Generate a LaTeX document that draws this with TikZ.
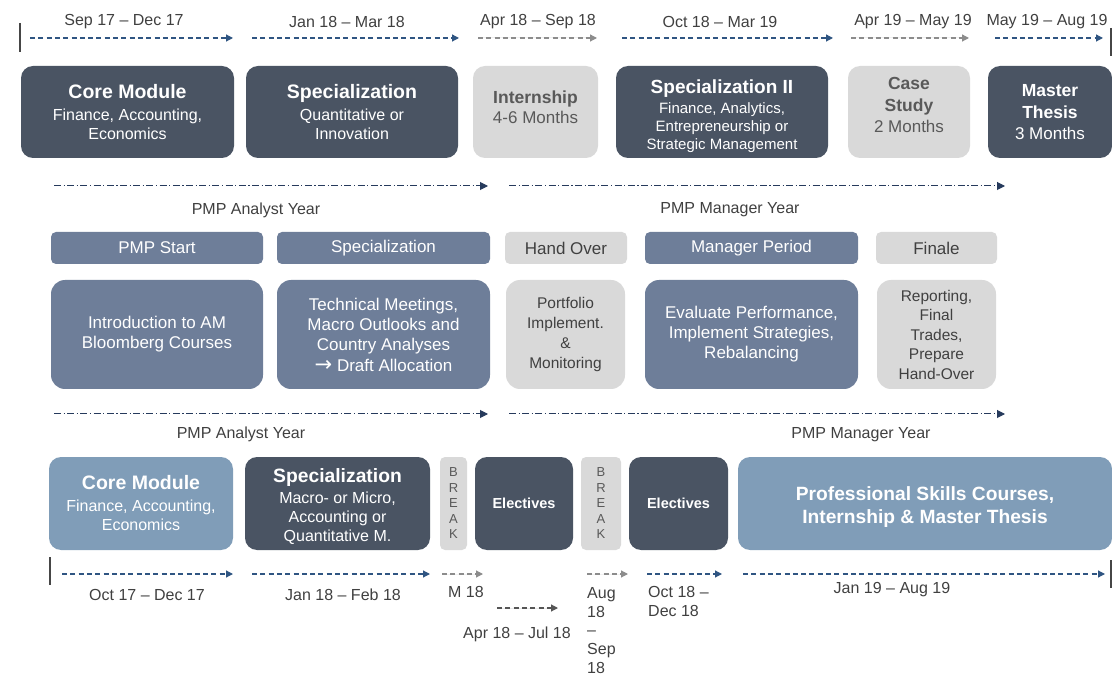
\documentclass[tikz,border=0pt]{standalone}
\usepackage{fontspec}
\setmainfont{Liberation Sans}
\newfontfamily\arrowfont{DejaVu Sans}
\usetikzlibrary{arrows.meta}
\definecolor{darkbox}{RGB}{74,84,99}
\definecolor{lightgraybox}{RGB}{217,217,217}
\definecolor{midblue}{RGB}{110,126,153}
\definecolor{lightblue}{RGB}{128,157,184}
\definecolor{arrowblue}{RGB}{47,85,130}
\definecolor{arrowgray}{RGB}{140,140,140}
\definecolor{arrowdark}{RGB}{85,85,85}
\definecolor{navy}{RGB}{38,58,92}
\definecolor{txtdark}{RGB}{64,64,64}
\definecolor{txtgray}{RGB}{89,89,89}
\definecolor{barcol}{RGB}{70,70,70}
\newcommand\fs[2]{\fontsize{#1}{#2}\selectfont}
\newcommand\tarr[5]{\coordinate (#1s) at (#3,#5); \coordinate (#1e) at (#4,#5); \draw[#2] (#1s) -- (#1e);}
\begin{document}
\begin{tikzpicture}[x=1pt,y=-1pt,
  box/.style={rounded corners=12pt, inner sep=0pt, outer sep=0pt, align=center, anchor=north west},
  dk/.style={box, fill=darkbox, text=white},
  lg/.style={box, fill=lightgraybox, text=txtgray},
  mb/.style={box, fill=midblue, text=white},
  lb/.style={box, fill=lightblue, text=white},
  hdr/.style={rounded corners=5pt, minimum height=32pt, font=\fs{17}{20}},
  cnt/.style={rounded corners=14pt, minimum height=109pt},
  brk/.style={box, rounded corners=5pt, fill=lightgraybox, text=txtgray, minimum height=93pt, font=\fs{13}{15.5}},
  btxt/.style={align=center, inner sep=0pt},
  darrB/.style={draw=arrowblue, line width=1.2pt, dash pattern=on 5pt off 3.3pt, -{Triangle[length=7pt,width=7pt]}},
  darrG/.style={darrB, draw=arrowgray, fill=arrowgray},
  darrD/.style={darrB, draw=arrowdark, fill=arrowdark},
  ddarr/.style={draw=navy, line width=1pt, dash pattern=on 7pt off 2.5pt on 1.2pt off 2.5pt, -{Triangle[length=8pt,width=8pt]}},
  datelbl/.style={text=txtdark, font=\fs{16}{19}, inner sep=0pt},
  yrlbl/.style={text=txtdark, font=\fs{16}{19}, inner sep=0pt},
  vbar/.style={draw=barcol, line width=1.5pt}
]
\useasboundingbox (0,0) rectangle (1112,676);

% ---------------- Top row ----------------
\node[datelbl] (d1) at (124,21.5) {Sep 17 – Dec 17};
\node[datelbl] (d2) at (347,21.5) {Jan 18 – Mar 18};
\node[datelbl] (d3) at (538,21.5) {Apr 18 – Sep 18};
\node[datelbl] (d4) at (720,21.5) {Oct 18 – Mar 19};
\node[datelbl] (d5) at (913,21.5) {Apr 19 – May 19};
\node[datelbl] (d6) at (1047,21.5) {May 19 – Aug 19};

\coordinate (tb1a) at (20,23); \coordinate (tb1b) at (20,52);
\draw[vbar] (tb1a) -- (tb1b);
\coordinate (tb2a) at (1111,28); \coordinate (tb2b) at (1111,56);
\draw[vbar] (tb2a) -- (tb2b);

\tarr{a1}{darrB}{30}{233}{38}
\tarr{a2}{darrB}{252}{459}{38}
\tarr{a3}{darrG}{478}{597}{38}
\tarr{a4}{darrB}{622}{833}{38}
\tarr{a5}{darrG}{851}{969}{38}
\tarr{a6}{darrB}{995}{1103}{38}

\node[dk, minimum width=213pt, minimum height=92pt, font=\fs{16}{18.5}] (core) at (21,66)
  {{\bfseries\fs{19.5}{22}Core Module}\\[3.5pt]Finance, Accounting,\\Economics};
\node[dk, minimum width=212pt, minimum height=92pt, font=\fs{16}{19}] (spec) at (246,66)
  {{\bfseries\fs{19.5}{22}Specialization}\\[3pt]Quantitative  or\\Innovation};
\node[lg, minimum width=125pt, minimum height=92pt] (intern) at (473,66) {};
\node[btxt, text=txtgray, font=\fs{17}{20}] (internT) at (535.5,107)
  {{\bfseries\fs{17.5}{20}Internship}\\4-6 Months};
\node[dk, minimum width=212pt, minimum height=92pt] (spec2) at (616,66) {};
\node[btxt, text=white, font=\fs{15}{17.8}] (spec2T) at (722,116)
  {{\bfseries\fs{19}{21}Specialization II}\\[3pt]Finance, Analytics,\\Entrepreneurship or\\Strategic Management};
\node[lg, minimum width=122pt, minimum height=92pt] (case) at (848,66) {};
\node[btxt, text=txtgray, font=\fs{17}{21.5}] (caseT) at (909,105)
  {{\bfseries\fs{17.5}{21}Case}\\{\bfseries\fs{17.5}{21}Study}\\2 Months};
\node[dk, minimum width=124pt, minimum height=92pt] (master) at (988,66) {};
\node[btxt, text=white, font=\fs{17}{21.5}] (masterT) at (1050,112.5)
  {{\bfseries\fs{17.5}{21}Master}\\{\bfseries\fs{17.5}{21}Thesis}\\3 Months};

% ---------------- Middle section ----------------
\tarr{m1}{ddarr}{54}{488}{186}
\tarr{m2}{ddarr}{509}{1005}{186}
\node[yrlbl] (py1) at (256,210) {PMP Analyst Year};
\node[yrlbl] (py2) at (730,210) {PMP Manager Year};

\node[mb, hdr, minimum width=212pt] (hstart) at (51,232) {PMP Start};
\node[mb, hdr, minimum width=213pt] (hspec) at (277,232) {Specialization};
\node[lg, hdr, minimum width=122pt, text=txtdark] (hhand) at (505,232) {Hand Over};
\node[mb, hdr, minimum width=213pt] (hman) at (645,232) {Manager Period};
\node[lg, hdr, minimum width=121pt, text=txtdark] (hfin) at (876,232) {Finale};

\node[mb, cnt, minimum width=212pt, font=\fs{17}{20}] (cintro) at (51,280)
  {Introduction to AM\\Bloomberg Courses};
\node[mb, cnt, minimum width=213pt, font=\fs{17}{20.3}] (ctech) at (277,280)
  {Technical Meetings,\\Macro Outlooks and\\Country Analyses\\{\arrowfont\fs{21}{20}→} Draft Allocation};
\node[lg, cnt, minimum width=119pt, font=\fs{15.5}{20}, text=txtdark] (cport) at (506,280)
  {Portfolio\\Implement.\\\&\\Monitoring};
\node[mb, cnt, minimum width=213pt, font=\fs{17}{20}] (ceval) at (645,280)
  {Evaluate Performance,\\Implement  Strategies,\\Rebalancing};
\node[lg, cnt, minimum width=119pt, font=\fs{15.5}{19.5}, text=txtdark] (crep) at (877,280)
  {Reporting,\\Final\\Trades,\\Prepare\\Hand-Over};

\tarr{m3}{ddarr}{54}{488}{414}
\tarr{m4}{ddarr}{509}{1005}{414}
\node[yrlbl] (py3) at (241,434.5) {PMP Analyst Year};
\node[yrlbl] (py4) at (861,434.5) {PMP Manager  Year};

% ---------------- Bottom row ----------------
\node[lb, minimum width=184pt, minimum height=93pt, font=\fs{16}{19}] (bcore) at (49,457)
  {{\bfseries\fs{19.5}{22}Core Module}\\[3pt]Finance, Accounting,\\Economics};
\node[dk, minimum width=185pt, minimum height=93pt] (bspec) at (245,457) {};
\node[btxt, text=white, font=\fs{16}{19}] (bspecT) at (337.5,506.5)
  {{\bfseries\fs{19.3}{22}Specialization}\\[2.5pt]Macro- or Micro,\\Accounting or\\Quantitative  M.};
\node[brk, minimum width=27pt] (brk1) at (440,457) {B\\R\\E\\A\\K};
\node[dk, minimum width=98pt, minimum height=93pt, font=\bfseries\fs{14.5}{17}] (elec1) at (475,457) {Electives};
\node[brk, minimum width=40pt] (brk2) at (581,457) {B\\R\\E\\A\\K};
\node[dk, minimum width=99pt, minimum height=93pt, font=\bfseries\fs{14.5}{17}] (elec2) at (629,457) {Electives};
\node[lb, minimum width=374pt, minimum height=93pt] (prof) at (738,457) {};
\node[btxt, text=white, font=\bfseries\fs{19.2}{23}] (profT) at (925,507)
  {Professional Skills Courses,\\Internship \& Master Thesis};

\coordinate (bb1a) at (50,557); \coordinate (bb1b) at (50,585);
\draw[vbar] (bb1a) -- (bb1b);
\coordinate (bb2a) at (1111,560); \coordinate (bb2b) at (1111,588);
\draw[vbar] (bb2a) -- (bb2b);

\tarr{b1}{darrB}{62}{233}{574}
\tarr{b2}{darrB}{252}{430}{574}
\tarr{b3}{darrG}{442}{483}{574}
\tarr{b4}{darrD}{497}{558}{608}
\tarr{b5}{darrG}{587}{628}{574}
\tarr{b6}{darrB}{647}{722}{574}
\tarr{b7}{darrB}{743}{1105}{574}

\node[datelbl] (l1) at (147,594.5) {Oct 17 – Dec 17};
\node[datelbl] (l2) at (343,594.5) {Jan 18 – Feb 18};
\node[datelbl] (l3) at (466,592) {M 18};
\node[datelbl] (l4) at (517,634.5) {Apr 18 – Jul 18};
\node[datelbl, align=left, anchor=north west, font=\fs{16}{18.8}] (l5) at (587,587) {Aug\\18\\–\\Sep\\18};
\node[datelbl, align=left, anchor=north west, font=\fs{16}{19.5}] (l6) at (648,586) {Oct 18 –\\Dec 18};
\node[datelbl] (l7) at (892,589.5) {Jan 19 – Aug 19};
\end{tikzpicture}
\end{document}
